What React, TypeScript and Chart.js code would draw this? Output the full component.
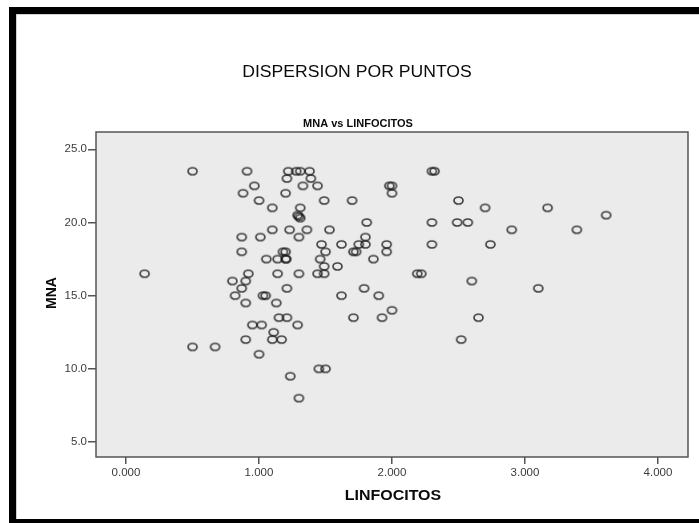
import React, { useEffect, useRef } from "react";
import { Chart, registerables } from "chart.js";

Chart.register(...registerables);

const linfocitos = [
  0.14, 0.5, 0.91, 0.965, 0.88, 1.0, 1.1, 1.22, 1.28, 1.31, 1.38, 1.21, 1.39, 1.33, 1.44, 1.2, 1.49, 1.7,
  1.31, 1.29, 1.3, 1.31, 1.81, 1.1, 1.23, 1.36, 1.53, 0.87, 1.01, 1.3, 1.8, 1.47, 1.62, 1.75, 1.8, 0.87,
  1.18, 1.2, 1.5, 1.71, 1.73, 1.055, 1.14, 1.2, 1.205, 1.46, 1.86, 1.49, 1.59, 0.92, 1.14, 1.3, 1.44, 1.49,
  0.8, 0.9, 0.87, 1.21, 1.79, 0.82, 1.03, 1.05, 1.62, 1.9, 0.9, 1.13, 1.15, 1.21, 1.71, 1.925, 0.95, 1.02,
  1.29, 1.11, 0.9, 1.1, 1.17, 0.5, 0.67, 1.0, 1.45, 1.5, 1.235, 1.3, 2.3, 2.32, 1.98, 2.0, 2.0, 2.5, 2.7,
  3.17, 3.61, 2.3, 2.49, 2.57, 2.9, 3.39, 1.96, 2.3, 2.74, 1.96, 2.19, 2.22, 2.6, 3.1, 2.0, 2.65, 2.52,
];
const mna = [
  16.5, 23.5, 23.5, 22.5, 22.0, 21.5, 21.0, 23.5, 23.5, 23.5, 23.5, 23.0, 23.0, 22.5, 22.5, 22.0, 21.5, 21.5,
  21.0, 20.5, 20.4, 20.3, 20.0, 19.5, 19.5, 19.5, 19.5, 19.0, 19.0, 19.0, 19.0, 18.5, 18.5, 18.5, 18.5, 18.0,
  18.0, 18.0, 18.0, 18.0, 18.0, 17.5, 17.5, 17.5, 17.5, 17.5, 17.5, 17.0, 17.0, 16.5, 16.5, 16.5, 16.5, 16.5,
  16.0, 16.0, 15.5, 15.5, 15.5, 15.0, 15.0, 15.0, 15.0, 15.0, 14.5, 14.5, 13.5, 13.5, 13.5, 13.5, 13.0, 13.0,
  13.0, 12.5, 12.0, 12.0, 12.0, 11.5, 11.5, 11.0, 10.0, 10.0, 9.5, 8.0, 23.5, 23.5, 22.5, 22.5, 22.0, 21.5, 21.0,
  21.0, 20.5, 20.0, 20.0, 20.0, 19.5, 19.5, 18.5, 18.5, 18.5, 18.0, 16.5, 16.5, 16.0, 15.5, 14.0, 13.5, 12.0,
];
const xTicks = [0, 1, 2, 3, 4];
const yTicks = [5, 10, 15, 20, 25];
const chartTitle = "DISPERSION POR PUNTOS";
const chartSubtitle = "MNA vs LINFOCITOS";
const xTitle = "LINFOCITOS";
const yTitle = "MNA";

const FONT = "'Liberation Sans', Arial, sans-serif";

function makeMarker(): HTMLCanvasElement {
  const c = document.createElement("canvas");
  c.width = 13;
  c.height = 11;
  const ctx = c.getContext("2d")!;
  ctx.strokeStyle = "rgba(25,25,25,0.8)";
  ctx.lineWidth = 1.7;
  ctx.beginPath();
  ctx.ellipse(6.5, 5.5, 4.5, 3.5, 0, 0, Math.PI * 2);
  ctx.stroke();
  return c;
}

function drawText(
  ctx: CanvasRenderingContext2D,
  text: string,
  x: number,
  y: number,
  font: string,
  sx: number,
  rotate = false
) {
  ctx.save();
  ctx.translate(x, y);
  if (rotate) ctx.rotate(-Math.PI / 2);
  ctx.scale(sx, 1);
  ctx.font = font;
  ctx.fillStyle = "#0a0a0a";
  ctx.textAlign = "center";
  ctx.textBaseline = "middle";
  ctx.fillText(text, 0, 0);
  ctx.restore();
}

const framePlugin = {
  id: "framePlugin",
  beforeDraw(chart: any) {
    const { ctx, chartArea, width, height } = chart;
    ctx.save();
    ctx.fillStyle = "#ffffff";
    ctx.fillRect(0, 0, width, height);
    ctx.fillStyle = "#000000";
    ctx.fillRect(9, 7, width - 9, 7);
    ctx.fillRect(9, 7, 7, height - 7);
    ctx.fillRect(9, 519, width - 9, height - 519);
    ctx.fillStyle = "#cfcfcf";
    ctx.fillRect(16, 14, width - 16, 1);
    ctx.fillRect(16, 14, 1, 505);
    ctx.fillStyle = "#ebebeb";
    ctx.fillRect(chartArea.left, chartArea.top, chartArea.right - chartArea.left, chartArea.bottom - chartArea.top);
    ctx.restore();
  },
  afterDraw(chart: any) {
    const { ctx, chartArea } = chart;
    ctx.save();
    ctx.strokeStyle = "#555555";
    ctx.lineWidth = 1.5;
    ctx.strokeRect(chartArea.left, chartArea.top, chartArea.right - chartArea.left, chartArea.bottom - chartArea.top);
    ctx.restore();
    drawText(ctx, chartTitle, 357, 73, `16px ${FONT}`, 1.1);
    drawText(ctx, chartSubtitle, 358, 124, `bold 10px ${FONT}`, 1.1);
    drawText(ctx, xTitle, 393, 496, `bold 14px ${FONT}`, 1.14);
    drawText(ctx, yTitle, 52, 293, `bold 14px ${FONT}`, 1.0, true);
  },
};

export default function App() {
  const ref = useRef<HTMLCanvasElement | null>(null);
  useEffect(() => {
    if (!ref.current) return;
    const marker = makeMarker();
    const points = linfocitos.map((x, i) => ({ x, y: mna[i] }));
    const chart = new Chart(ref.current, {
      type: "scatter",
      data: {
        datasets: [
          {
            data: points,
            pointStyle: marker as any,
            pointRadius: 5,
            borderColor: "#333",
            backgroundColor: "transparent",
          },
        ],
      },
      options: {
        animation: false,
        responsive: false,
        devicePixelRatio: 1,
        layout: { padding: { left: 0, top: 132, right: 11, bottom: 0 } },
        plugins: { legend: { display: false }, tooltip: { enabled: false }, title: { display: false } },
        scales: {
          x: {
            type: "linear",
            min: -0.2256,
            max: 4.2256,
            afterBuildTicks: (s: any) => {
              s.ticks = xTicks.map((v) => ({ value: v }));
            },
            afterFit: (s: any) => {
              s.height = 66;
            },
            border: { display: false },
            grid: { drawOnChartArea: false, drawTicks: true, tickLength: 7, color: "#555", lineWidth: 1.5 },
            ticks: {
              padding: 2,
              color: "#3a3a3a",
              font: { family: FONT, size: 11.5 },
              callback: (v: any) => Number(v).toFixed(3),
              maxRotation: 0,
            },
          },
          y: {
            type: "linear",
            min: 3.98,
            max: 26.18,
            afterBuildTicks: (s: any) => {
              s.ticks = yTicks.map((v) => ({ value: v }));
            },
            afterFit: (s: any) => {
              s.width = 96;
            },
            border: { display: false },
            grid: { drawOnChartArea: false, drawTicks: true, tickLength: 8, color: "#555", lineWidth: 1.5 },
            ticks: {
              padding: 1,
              color: "#3a3a3a",
              font: { family: FONT, size: 11.5 },
              callback: (v: any) => Number(v).toFixed(1),
            },
          },
        },
      },
      plugins: [framePlugin],
    });
    return () => chart.destroy();
  }, []);
  return (
    <div style={{ position: "fixed", left: 0, top: 0, width: 699, height: 523, background: "#fff" }}>
      <canvas ref={ref} width={699} height={523} style={{ display: "block", width: 699, height: 523 }} />
    </div>
  );
}
